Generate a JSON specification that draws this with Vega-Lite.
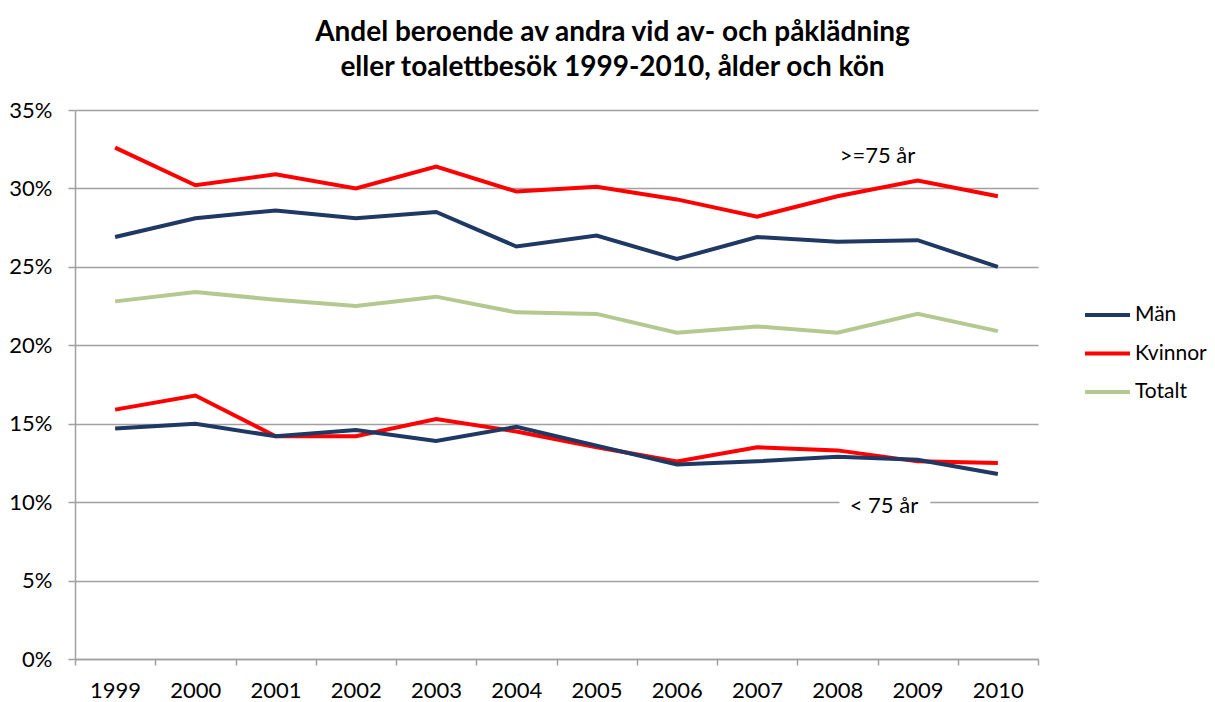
{
  "$schema": "https://vega.github.io/schema/vega-lite/v6.json",
  "width": 963,
  "height": 549,
  "autosize": "none",
  "padding": {"left": 75, "top": 110, "right": 177, "bottom": 43},
  "background": "white",
  "config": {"view": {"stroke": null}, "font": "Lato"},
  "title": {
    "text": ["Andel beroende av andra vid av- och påklädning", "eller toalettbesök 1999-2010, ålder och kön"],
    "font": "Lato",
    "fontSize": 28,
    "fontWeight": "bold",
    "color": "black",
    "anchor": "middle",
    "frame": "group",
    "dx": 56,
    "offset": 17,
    "lineHeight": 35
  },
  "datasets": {
    "series": [
      {"year": 1999, "group": ">=75", "kon": "Kvinnor", "value": 0.326},
      {"year": 2000, "group": ">=75", "kon": "Kvinnor", "value": 0.302},
      {"year": 2001, "group": ">=75", "kon": "Kvinnor", "value": 0.309},
      {"year": 2002, "group": ">=75", "kon": "Kvinnor", "value": 0.300},
      {"year": 2003, "group": ">=75", "kon": "Kvinnor", "value": 0.314},
      {"year": 2004, "group": ">=75", "kon": "Kvinnor", "value": 0.298},
      {"year": 2005, "group": ">=75", "kon": "Kvinnor", "value": 0.301},
      {"year": 2006, "group": ">=75", "kon": "Kvinnor", "value": 0.293},
      {"year": 2007, "group": ">=75", "kon": "Kvinnor", "value": 0.282},
      {"year": 2008, "group": ">=75", "kon": "Kvinnor", "value": 0.295},
      {"year": 2009, "group": ">=75", "kon": "Kvinnor", "value": 0.305},
      {"year": 2010, "group": ">=75", "kon": "Kvinnor", "value": 0.295},
      {"year": 1999, "group": ">=75", "kon": "Män", "value": 0.269},
      {"year": 2000, "group": ">=75", "kon": "Män", "value": 0.281},
      {"year": 2001, "group": ">=75", "kon": "Män", "value": 0.286},
      {"year": 2002, "group": ">=75", "kon": "Män", "value": 0.281},
      {"year": 2003, "group": ">=75", "kon": "Män", "value": 0.285},
      {"year": 2004, "group": ">=75", "kon": "Män", "value": 0.263},
      {"year": 2005, "group": ">=75", "kon": "Män", "value": 0.270},
      {"year": 2006, "group": ">=75", "kon": "Män", "value": 0.255},
      {"year": 2007, "group": ">=75", "kon": "Män", "value": 0.269},
      {"year": 2008, "group": ">=75", "kon": "Män", "value": 0.266},
      {"year": 2009, "group": ">=75", "kon": "Män", "value": 0.267},
      {"year": 2010, "group": ">=75", "kon": "Män", "value": 0.250},
      {"year": 1999, "group": "alla", "kon": "Totalt", "value": 0.228},
      {"year": 2000, "group": "alla", "kon": "Totalt", "value": 0.234},
      {"year": 2001, "group": "alla", "kon": "Totalt", "value": 0.229},
      {"year": 2002, "group": "alla", "kon": "Totalt", "value": 0.225},
      {"year": 2003, "group": "alla", "kon": "Totalt", "value": 0.231},
      {"year": 2004, "group": "alla", "kon": "Totalt", "value": 0.221},
      {"year": 2005, "group": "alla", "kon": "Totalt", "value": 0.220},
      {"year": 2006, "group": "alla", "kon": "Totalt", "value": 0.208},
      {"year": 2007, "group": "alla", "kon": "Totalt", "value": 0.212},
      {"year": 2008, "group": "alla", "kon": "Totalt", "value": 0.208},
      {"year": 2009, "group": "alla", "kon": "Totalt", "value": 0.220},
      {"year": 2010, "group": "alla", "kon": "Totalt", "value": 0.209},
      {"year": 1999, "group": "<75", "kon": "Kvinnor", "value": 0.159},
      {"year": 2000, "group": "<75", "kon": "Kvinnor", "value": 0.168},
      {"year": 2001, "group": "<75", "kon": "Kvinnor", "value": 0.142},
      {"year": 2002, "group": "<75", "kon": "Kvinnor", "value": 0.142},
      {"year": 2003, "group": "<75", "kon": "Kvinnor", "value": 0.153},
      {"year": 2004, "group": "<75", "kon": "Kvinnor", "value": 0.145},
      {"year": 2005, "group": "<75", "kon": "Kvinnor", "value": 0.135},
      {"year": 2006, "group": "<75", "kon": "Kvinnor", "value": 0.126},
      {"year": 2007, "group": "<75", "kon": "Kvinnor", "value": 0.135},
      {"year": 2008, "group": "<75", "kon": "Kvinnor", "value": 0.133},
      {"year": 2009, "group": "<75", "kon": "Kvinnor", "value": 0.126},
      {"year": 2010, "group": "<75", "kon": "Kvinnor", "value": 0.125},
      {"year": 1999, "group": "<75", "kon": "Män", "value": 0.147},
      {"year": 2000, "group": "<75", "kon": "Män", "value": 0.150},
      {"year": 2001, "group": "<75", "kon": "Män", "value": 0.142},
      {"year": 2002, "group": "<75", "kon": "Män", "value": 0.146},
      {"year": 2003, "group": "<75", "kon": "Män", "value": 0.139},
      {"year": 2004, "group": "<75", "kon": "Män", "value": 0.148},
      {"year": 2005, "group": "<75", "kon": "Män", "value": 0.136},
      {"year": 2006, "group": "<75", "kon": "Män", "value": 0.124},
      {"year": 2007, "group": "<75", "kon": "Män", "value": 0.126},
      {"year": 2008, "group": "<75", "kon": "Män", "value": 0.129},
      {"year": 2009, "group": "<75", "kon": "Män", "value": 0.127},
      {"year": 2010, "group": "<75", "kon": "Män", "value": 0.118}
    ],
    "labels": [
      {"label": ">=75 år", "year": 2008.5, "value": 0.3205},
      {"label": "< 75 år", "year": 2008.58, "value": 0.0973}
    ]
  },
  "layer": [
    {
      "data": {"name": "series"},
      "mark": {"type": "line", "strokeWidth": 4, "strokeJoin": "miter", "strokeCap": "butt"},
      "encoding": {
        "x": {
          "field": "year",
          "type": "quantitative",
          "scale": {"domain": [1998.5, 2010.5], "nice": false, "zero": false},
          "axis": {
            "title": null,
            "values": [1998.5, 1999.5, 2000.5, 2001.5, 2002.5, 2003.5, 2004.5, 2005.5, 2006.5, 2007.5, 2008.5, 2009.5, 2010.5],
            "labelExpr": "datum.value > 2010 ? '' : format(datum.value + 0.5, 'd')",
            "labelOffset": 40,
            "grid": false,
            "domainColor": "#A0A0A0",
            "domainWidth": 1.5,
            "tickColor": "#A0A0A0",
            "tickWidth": 1.5,
            "tickSize": 6,
            "labelFont": "Lato",
            "labelFontSize": 22,
            "labelColor": "black",
            "labelPadding": 15,
            "labelFlush": false,
            "labelOverlap": false
          }
        },
        "y": {
          "field": "value",
          "type": "quantitative",
          "scale": {"domain": [0, 0.35], "nice": false},
          "axis": {
            "title": null,
            "values": [0, 0.05, 0.1, 0.15, 0.2, 0.25, 0.3, 0.35],
            "format": ".0%",
            "grid": true,
            "gridColor": "#A0A0A0",
            "gridWidth": 1.5,
            "domainColor": "#A0A0A0",
            "domainWidth": 1.5,
            "tickColor": "#A0A0A0",
            "tickWidth": 1.5,
            "tickSize": 7,
            "labelFont": "Lato",
            "labelFontSize": 22,
            "labelColor": "black",
            "labelPadding": 16
          }
        },
        "color": {
          "field": "kon",
          "type": "nominal",
          "scale": {"domain": ["Män", "Kvinnor", "Totalt"], "range": ["#1F3864", "#FF0000", "#B3C98F"]},
          "legend": {
            "title": null,
            "orient": "none",
            "legendX": 1008,
            "legendY": 194,
            "symbolType": "stroke",
            "symbolSize": 2025,
            "symbolStrokeWidth": 4,
            "clipHeight": 22,
            "rowPadding": 16.5,
            "labelFont": "Lato",
            "labelFontSize": 21,
            "labelColor": "black",
            "labelOffset": 3
          }
        },
        "detail": {"field": "group"}
      }
    },
    {
      "data": {"name": "labels"},
      "transform": [{"filter": "datum.label == '< 75 år'"}],
      "mark": {"type": "text", "font": "Lato", "fontSize": 22, "color": "white", "stroke": "white", "strokeWidth": 24, "align": "center", "baseline": "middle"},
      "encoding": {
        "x": {"field": "year", "type": "quantitative"},
        "y": {"field": "value", "type": "quantitative"},
        "text": {"field": "label"}
      }
    },
    {
      "data": {"name": "labels"},
      "mark": {"type": "text", "font": "Lato", "fontSize": 22, "color": "black", "align": "center", "baseline": "middle"},
      "encoding": {
        "x": {"field": "year", "type": "quantitative"},
        "y": {"field": "value", "type": "quantitative"},
        "text": {"field": "label"}
      }
    }
  ]
}
